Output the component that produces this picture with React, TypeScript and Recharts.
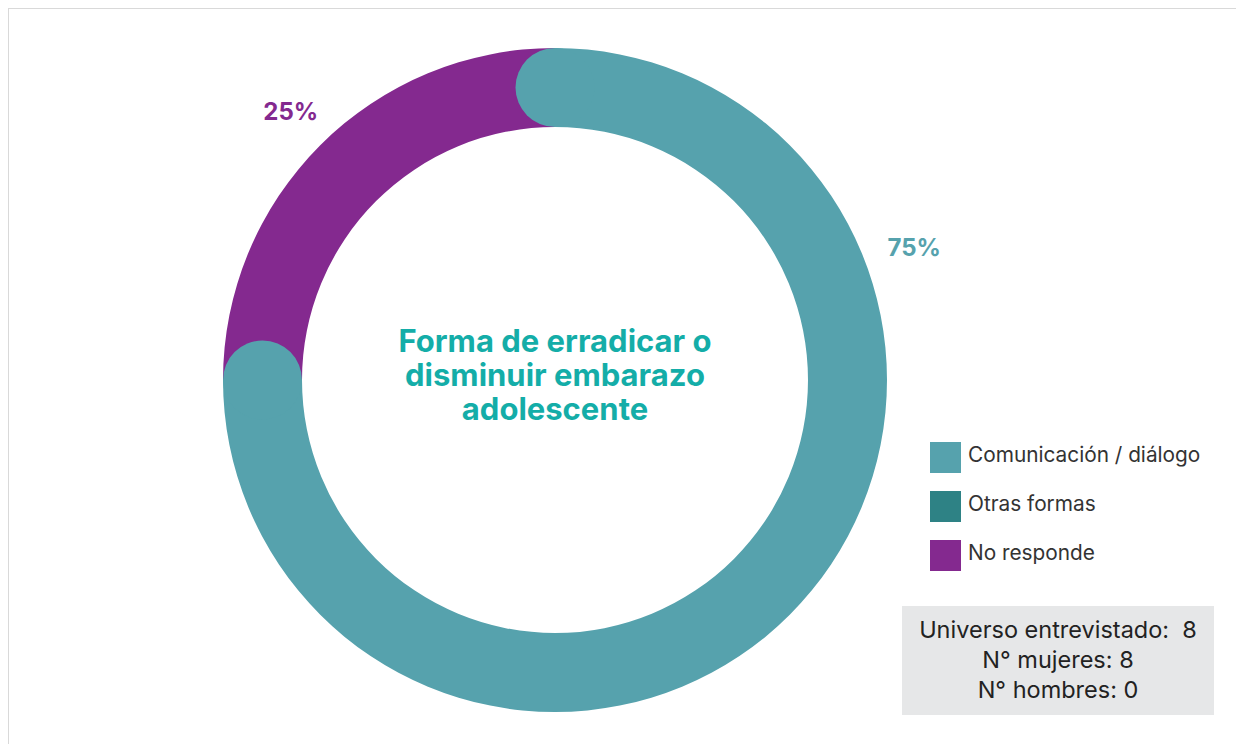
import { PieChart, Pie, Cell, Sector, Legend, Customized } from 'recharts'

const categories = ['No responde', 'Otras formas', 'Comunicación / diálogo']
const values = [25, 0, 75]
const colors = ['#84298F', '#2E8285', '#56A2AD']
const legendOrder = ['Comunicación / diálogo', 'Otras formas', 'No responde']
const titleLines = ['Forma de erradicar o', 'disminuir embarazo', 'adolescente']
const infoLines = ['Universo entrevistado:  8', 'N° mujeres: 8', 'N° hombres: 0']

const data = categories.map((name, i) => ({ name, value: values[i], color: colors[i] }))

const FONT = 'Inter, "Noto Sans", sans-serif'
const RAD = Math.PI / 180
const PIE_CX = 541
const PIE_CY = 366

// where the percentage labels sit (angle in degrees, radius in px)
const labelSpot: Record<string, { angle: number; r: number }> = {
  'No responde': { angle: 134.5, r: 377 },
  'Comunicación / diálogo': { angle: 20.3, r: 383 },
}

function RoundedSector(props: any) {
  const { cx, cy, innerRadius, outerRadius, startAngle, endAngle, fill } = props
  const mid = (innerRadius + outerRadius) / 2
  const capR = (outerRadius - innerRadius) / 2
  const ends = [startAngle, endAngle].map((a: number) => ({
    x: cx + mid * Math.cos(-a * RAD),
    y: cy + mid * Math.sin(-a * RAD),
  }))
  return (
    <g>
      <Sector
        cx={cx}
        cy={cy}
        innerRadius={innerRadius}
        outerRadius={outerRadius}
        startAngle={startAngle}
        endAngle={endAngle}
        fill={fill}
      />
      {props.payload.name === 'Comunicación / diálogo' &&
        ends.map((p, i) => <circle key={i} cx={p.x} cy={p.y} r={capR} fill={fill} />)}
    </g>
  )
}

function renderLabel(props: any) {
  const { cx, cy, name, percent, fill } = props
  const spot = labelSpot[name]
  if (!spot || !percent) return null
  const x = cx + spot.r * Math.cos(-spot.angle * RAD)
  const y = cy + spot.r * Math.sin(-spot.angle * RAD)
  return (
    <text
      x={x}
      y={y}
      textAnchor="middle"
      dominantBaseline="central"
      fill={fill}
      fontFamily={FONT}
      fontWeight={700}
      fontSize={24}
    >
      {`${Math.round(percent * 100)}%`}
    </text>
  )
}

function CenterTitle() {
  return (
    <text textAnchor="middle" fill="#14ADA8" fontFamily={FONT} fontWeight={700} fontSize={31}>
      {titleLines.map((t, i) => (
        <tspan key={t} x={PIE_CX + 5} y={PIE_CY + 5 - 40 + i * 34} dominantBaseline="central">
          {t}
        </tspan>
      ))}
    </text>
  )
}

function LegendBox() {
  return (
    <div style={{ fontFamily: FONT }}>
      {legendOrder.map((name) => {
        const c = colors[categories.indexOf(name)]
        return (
          <div key={name} style={{ display: 'flex', alignItems: 'center', height: 31, marginBottom: 18 }}>
            <span style={{ width: 31, height: 31, background: c, display: 'inline-block', marginRight: 7 }} />
            <span style={{ fontSize: 20.8, color: '#333', marginTop: -6 }}>{name}</span>
          </div>
        )
      })}
    </div>
  )
}

export default function App() {
  return (
    <div
      style={{
        position: 'relative',
        width: 1250,
        height: 750,
        border: '1px solid #d9d9d9',
        background: '#fff',
        overflow: 'hidden',
      }}
    >
      <PieChart width={1236} height={736}>
        <Pie
          data={data}
          dataKey="value"
          nameKey="name"
          cx={PIE_CX}
          cy={PIE_CY}
          innerRadius={253}
          outerRadius={332}
          startAngle={180}
          endAngle={-180}
          stroke="none"
          shape={RoundedSector}
          label={renderLabel}
          labelLine={false}
          isAnimationActive={false}
        >
          {data.map((d) => (
            <Cell key={d.name} fill={d.color} />
          ))}
        </Pie>
        <Customized component={CenterTitle} />
        <Legend
          layout="vertical"
          content={<LegendBox />}
          wrapperStyle={{ position: 'absolute', left: 921, top: 433, width: 310 }}
        />
      </PieChart>
      <div
        style={{
          position: 'absolute',
          left: 893,
          top: 597,
          width: 312,
          height: 109,
          background: '#E6E7E8',
          fontFamily: FONT,
          fontSize: 23.5,
          color: '#222',
          textAlign: 'center',
          lineHeight: '30px',
          paddingTop: 9,
          boxSizing: 'border-box',
        }}
      >
        {infoLines.map((t) => (
          <div key={t} style={{ whiteSpace: 'pre' }}>
            {t}
          </div>
        ))}
      </div>
    </div>
  )
}
